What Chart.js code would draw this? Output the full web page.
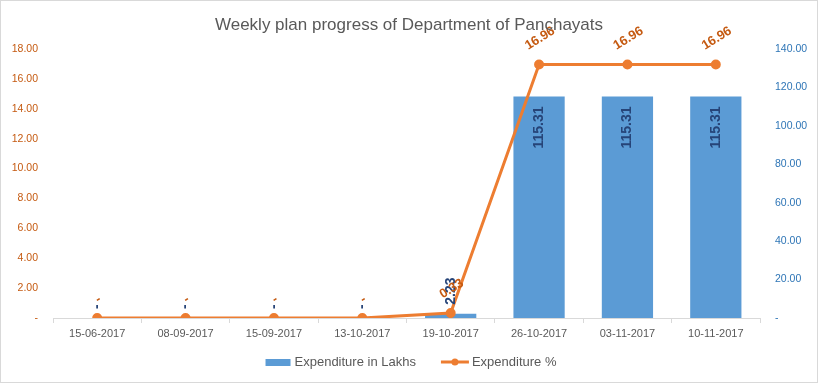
<!DOCTYPE html>
<html>
<head>
<meta charset="utf-8">
<script src="https://cdn.jsdelivr.net/npm/chart.js@4"></script>
<style>
  html, body { margin: 0; padding: 0; background: #fff; }
  #wrap { width: 818px; height: 383px; }
</style>
</head>
<body>
<div id="wrap"><canvas id="chart" width="818" height="383"></canvas></div>
<script>
// datos del grafico
const categories = ["15-06-2017", "08-09-2017", "15-09-2017", "13-10-2017", "19-10-2017", "26-10-2017", "03-11-2017", "10-11-2017"];
const expenditureLakhs = [0, 0, 0, 0, 2.23, 115.31, 115.31, 115.31];
const expenditurePct = [0, 0, 0, 0, 0.33, 16.96, 16.96, 16.96];
const pctAxis = { min: 0, max: 18, step: 2 };
const lakhsAxis = { min: 0, max: 140, step: 20 };

const TITLE = "Weekly plan progress of Department of Panchayats";
const FONT = "'Liberation Sans', Arial, sans-serif";
const BLUE = "#5B9BD5";
const ORANGE = "#ED7D31";
const GREY = "#595959";
const ANGLE = -32 * Math.PI / 180;

const fmt = v => (v === 0 ? "-" : v.toFixed(2));

// etiquetas de datos, titulo, leyenda y borde
const decorations = {
  id: "decorations",
  afterDatasetsDraw(chart) {
    const ctx = chart.ctx;
    // barras: texto vertical
    chart.getDatasetMeta(1).data.forEach((bar, i) => {
      const txt = fmt(expenditureLakhs[i]);
      ctx.save();
      ctx.font = "bold 14px " + FONT;
      const w = ctx.measureText(txt).width;
      const h = bar.base - bar.y;
      const cy = h > w + 16 ? bar.y + 10 + w / 2 : bar.y - 9 - w / 2;
      ctx.translate(bar.x, cy);
      ctx.rotate(-Math.PI / 2);
      ctx.textAlign = "center";
      ctx.textBaseline = "middle";
      ctx.fillStyle = "#264478";
      ctx.fillText(txt, 0, 0);
      ctx.restore();
    });
    // linea: texto inclinado, encima del punto
    chart.getDatasetMeta(0).data.forEach((pt, i) => {
      const txt = fmt(expenditurePct[i]);
      ctx.save();
      ctx.font = "bold 13px " + FONT;
      const w = ctx.measureText(txt).width;
      const boxH = w * Math.abs(Math.sin(ANGLE)) + 13 * Math.cos(ANGLE);
      ctx.translate(pt.x + 1, pt.y - 12 - boxH / 2);
      ctx.rotate(ANGLE);
      ctx.textAlign = "center";
      ctx.textBaseline = "middle";
      ctx.fillStyle = "#C55A11";
      ctx.fillText(txt, 0, 0);
      ctx.restore();
    });
  },
  afterDraw(chart) {
    const ctx = chart.ctx;
    const W = chart.width, H = chart.height;
    ctx.save();
    // titulo
    ctx.font = "17px " + FONT;
    ctx.fillStyle = GREY;
    ctx.textAlign = "center";
    ctx.textBaseline = "middle";
    ctx.fillText(TITLE, W / 2, 25);

    // leyenda
    ctx.font = "13px " + FONT;
    ctx.textAlign = "left";
    const t1 = chart.data.datasets[1].label;
    const t2 = chart.data.datasets[0].label;
    const w1 = 25 + 4 + ctx.measureText(t1).width;
    const w2 = 28 + 3 + ctx.measureText(t2).width;
    const gap = 25;
    let x = W / 2 + 2 - (w1 + gap + w2) / 2;
    const ly = 362;
    ctx.fillStyle = BLUE;
    ctx.fillRect(x, ly - 3, 25, 7);
    ctx.fillStyle = GREY;
    ctx.fillText(t1, x + 29, ly);
    x += w1 + gap;
    ctx.strokeStyle = ORANGE;
    ctx.lineWidth = 3;
    ctx.beginPath();
    ctx.moveTo(x, ly);
    ctx.lineTo(x + 28, ly);
    ctx.stroke();
    ctx.fillStyle = ORANGE;
    ctx.beginPath();
    ctx.arc(x + 14, ly, 3.5, 0, Math.PI * 2);
    ctx.fill();
    ctx.fillStyle = GREY;
    ctx.fillText(t2, x + 31, ly);

    // borde
    ctx.strokeStyle = "#d9d9d9";
    ctx.lineWidth = 1;
    ctx.strokeRect(0.5, 0.5, W - 1, H - 1);
    ctx.restore();
  }
};

const ctx = document.getElementById("chart");
new Chart(ctx, {
  data: {
    labels: categories,
    datasets: [
      {
        type: "line",
        label: "Expenditure %",
        data: expenditurePct,
        yAxisID: "yPct",
        borderColor: ORANGE,
        backgroundColor: ORANGE,
        borderWidth: 3,
        pointRadius: 3.5,
        pointHoverRadius: 3.5,
        tension: 0,
        order: 0
      },
      {
        type: "bar",
        label: "Expenditure in Lakhs",
        data: expenditureLakhs,
        yAxisID: "yLakhs",
        backgroundColor: BLUE,
        barPercentage: 0.58,
        categoryPercentage: 1,
        order: 1
      }
    ]
  },
  options: {
    responsive: false,
    animation: false,
    devicePixelRatio: 1,
    layout: { padding: { top: 49, bottom: 0, left: 0, right: 0 } },
    plugins: {
      legend: { display: false },
      title: { display: false },
      tooltip: { enabled: false }
    },
    scales: {
      x: {
        offset: true,
        grid: { offset: true, drawOnChartArea: false, tickLength: 5, color: "#d9d9d9" },
        border: { color: "#d9d9d9" },
        ticks: { color: GREY, font: { family: FONT, size: 11 }, maxRotation: 0, padding: 4 },
        afterFit: s => { s.height = 65; }
      },
      yPct: {
        position: "left",
        min: pctAxis.min,
        max: pctAxis.max,
        grid: { display: false, drawTicks: false },
        border: { display: false },
        ticks: {
          stepSize: pctAxis.step,
          color: "#C55A11",
          font: { family: FONT, size: 10.5 },
          padding: 15,
          callback: v => fmt(v)
        },
        afterFit: s => { s.width = 53; }
      },
      yLakhs: {
        position: "right",
        min: lakhsAxis.min,
        max: lakhsAxis.max,
        grid: { display: false, drawTicks: false },
        border: { display: false },
        ticks: {
          stepSize: lakhsAxis.step,
          color: "#2E75B6",
          font: { family: FONT, size: 10.5 },
          padding: 15,
          callback: v => fmt(v)
        },
        afterFit: s => { s.width = 58; }
      }
    }
  },
  plugins: [decorations]
});
</script>
</body>
</html>
